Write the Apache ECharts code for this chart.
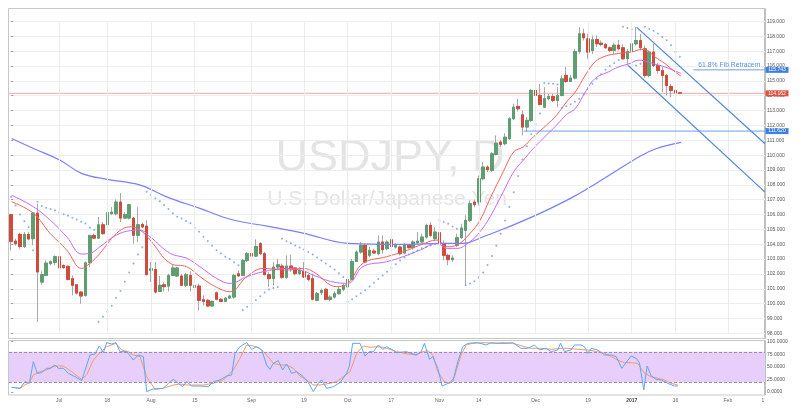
<!DOCTYPE html>
<html><head><meta charset="utf-8">
<script src="https://cdn.jsdelivr.net/npm/echarts@6.0.0/dist/echarts.min.js"></script>
<style>html,body{margin:0;padding:0;background:#fff}#c{width:801px;height:409px}</style>
</head><body><div id="c"></div>
<script>
// ---- data ----
const NSLOTS = 173; // trading-day slots on the time axis (Jun 16 2016 .. mid Feb 2017)
const tickIdx  = [11, 22, 32, 42, 55, 67, 77, 87, 98, 107, 120, 132, 142, 152, 164, 172];
const tickText = ['Jul','18','Aug','15','Sep','19','Oct','17','Nov','14','Dec','19','2017','16','Feb','1'];

const openP = [105.99,104.21,104.66,103.85,104.66,104.37,106.10,101.45,101.90,102.69,
102.78,103.16,102.57,102.51,101.68,101.27,100.78,100.55,102.75,104.59,
104.41,105.31,105.31,106.05,106.05,106.84,105.76,105.76,105.76,104.60,
105.33,105.22,102.24,102.30,100.82,101.27,101.18,101.90,101.86,101.86,
101.23,101.90,101.09,101.18,100.26,100.22,99.84,100.73,100.29,100.15,
100.37,100.44,102.01,101.90,102.91,103.36,103.20,104.04,103.36,101.95,
101.68,102.46,102.53,101.77,102.53,102.40,102.02,102.17,101.90,101.68,
100.22,100.74,100.96,100.29,100.44,100.67,100.96,101.12,101.63,102.84,
103.47,103.92,103.25,103.54,103.36,104.15,103.70,104.30,103.81,103.81,
103.41,103.92,103.77,104.08,104.15,104.48,105.27,104.37,104.78,104.03,
103.25,102.96,103.92,104.44,104.93,105.60,106.84,106.84,108.41,109.20,
108.97,110.05,110.88,110.77,111.10,112.45,113.28,112.72,111.89,112.34,
114.36,114.02,113.23,113.80,113.95,113.68,114.02,115.37,114.96,115.19,
116.98,118.17,117.83,117.05,117.79,117.54,117.45,117.23,117.05,117.41,
117.23,116.49,116.98,117.50,117.72,117.16,115.37,116.94,116.04,115.70,
115.37,114.63,114.36,114.20];
const closeP = [104.19,104.03,103.85,104.66,104.35,106.10,102.13,101.95,102.73,102.82,
103.16,102.40,102.42,101.63,101.23,100.71,100.51,102.75,104.59,104.41,
105.31,104.71,106.12,106.16,106.84,105.76,105.99,106.66,104.60,105.31,
105.16,101.95,102.35,100.78,101.23,101.14,101.90,102.40,102.40,101.23,
101.95,101.23,101.23,100.22,100.15,99.84,100.15,100.29,100.15,100.37,
100.51,101.90,101.86,102.91,103.36,103.20,103.85,103.36,101.95,101.68,
102.46,102.62,101.77,102.53,102.35,102.02,102.24,101.79,101.63,100.29,
100.67,100.89,100.29,100.44,100.67,100.96,101.23,101.63,102.84,103.47,
103.92,102.80,103.59,103.41,104.15,103.63,104.15,103.85,103.92,103.36,
103.92,103.77,104.15,104.21,104.48,105.27,104.60,104.82,104.04,103.25,
102.96,103.07,104.44,105.09,105.60,106.73,106.68,108.41,109.20,109.02,
110.09,110.81,110.72,111.21,112.45,113.23,113.12,111.89,112.34,114.36,
114.02,113.41,113.80,113.95,113.68,114.02,115.14,114.96,115.19,116.98,
118.17,117.90,116.94,117.77,117.50,117.45,117.23,117.05,117.41,117.16,
116.49,116.98,117.50,117.72,117.23,115.37,116.94,116.04,115.70,115.37,
114.69,114.36,114.20,114.162];
const highP = [106.05,104.37,104.77,104.82,104.82,106.16,106.73,102.17,102.91,102.91,
103.25,103.25,102.62,102.57,101.90,101.32,100.82,102.84,104.64,104.71,
105.83,105.49,106.28,106.50,107.02,107.45,106.16,106.73,105.83,106.50,
105.45,105.60,102.80,102.80,101.86,101.45,102.01,102.62,102.48,102.01,
102.08,102.17,101.41,101.34,100.55,100.33,100.22,100.82,100.37,100.44,
100.60,102.01,102.24,103.02,103.47,103.81,104.33,104.15,103.47,102.13,
102.80,103.02,102.69,103.25,103.29,102.46,102.46,102.80,102.02,102.02,
100.78,101.01,101.05,100.56,100.83,101.12,101.34,101.79,103.02,103.59,
104.15,104.03,103.81,103.70,104.60,104.60,104.26,104.44,104.08,103.92,
104.08,103.99,104.26,104.82,104.71,105.38,105.49,105.16,104.93,104.26,
103.36,103.25,104.71,105.38,105.94,106.95,107.00,108.63,109.53,109.31,
110.20,111.33,111.03,111.48,112.56,113.46,113.79,113.01,112.56,114.47,
114.51,114.80,114.58,114.13,114.13,114.58,115.37,115.93,115.41,117.16,
118.62,118.51,118.17,118.06,118.06,117.72,117.54,117.32,117.54,117.77,
117.45,117.16,117.72,118.62,118.17,117.38,117.05,117.50,116.19,115.93,
115.48,114.80,114.47,114.22];
const lowP = [103.58,103.92,103.70,103.74,104.26,103.92,98.76,101.27,101.86,102.57,
102.57,102.35,102.35,101.56,100.55,100.60,99.99,100.46,102.46,104.37,
104.37,104.64,105.15,105.99,105.94,105.49,105.72,105.67,104.03,104.15,
105.09,101.90,101.45,100.67,100.78,100.82,100.82,101.86,101.79,101.18,
101.12,100.82,100.78,99.55,99.88,99.77,99.77,100.22,100.11,100.11,
100.33,100.33,101.79,101.86,102.80,103.13,103.13,103.29,101.90,101.12,
101.23,102.24,101.68,101.68,102.13,101.90,101.90,101.72,101.50,100.22,
100.15,100.56,100.22,100.15,100.33,100.60,100.83,101.05,101.57,102.80,
103.36,102.73,103.14,103.36,103.25,103.36,103.59,103.77,103.70,103.25,
103.32,103.70,103.63,104.03,104.08,104.37,104.48,104.26,103.99,102.91,
102.58,102.80,103.81,104.37,101.23,105.49,106.50,106.61,108.30,108.86,
108.86,109.98,110.54,110.65,111.03,112.34,112.94,111.33,111.60,112.22,
113.91,113.35,113.17,113.68,113.57,113.23,113.97,114.87,114.92,115.10,
116.82,117.72,116.49,116.82,117.27,117.32,117.16,116.94,116.82,117.05,
116.42,116.04,116.71,117.38,117.05,115.21,115.25,115.93,115.48,114.24,
114.02,113.91,113.68,114.11];

// parabolic SAR, one value per candle
const sarValues = [107.2,106.6,106.0,105.55,105.15,103.6,
106.86,106.57,106.45,106.37,106.28,106.14,106.01,105.92,105.78,105.67,105.51,105.4,105.11,104.95,
98.76,99.12,99.45,99.86,100.4,100.85,101.47,102.1,102.7,103.3,103.8,
107.53,107.31,107.09,106.9,106.64,106.37,106.08,105.85,105.74,105.56,105.41,105.11,104.84,104.5,104.21,103.9,103.59,103.38,103.16,103.0,102.78,102.58,
99.57,99.78,100.0,100.25,100.5,100.75,100.95,101.05,101.12,
104.36,104.2,104.06,103.92,103.78,103.64,103.48,103.3,103.1,102.9,102.7,102.5,102.3,102.05,101.8,
100.13,100.3,100.5,100.7,100.9,101.15,101.4,101.65,101.9,102.15,102.4,102.65,102.9,103.1,103.3,103.45,103.6,103.72,103.82,103.92,104.0,
105.6,105.49,105.38,105.2,105.04,104.93,
101.23,101.35,101.5,101.75,102.1,102.6,103.2,103.9,104.7,105.6,106.5,107.5,108.6,109.7,110.6,111.4,112.1,112.8,
114.85,114.83,114.8,114.75,
113.17,113.3,113.42,113.6,113.8,114.1,114.45,114.8,115.15,115.45,115.75,116.0,116.2,116.4,
118.65,118.56,118.47,
116.04,116.15,
118.64,118.5,118.37,118.19,117.96,117.74,117.4,116.95,116.62];

// moving averages: [slot index, price]
const fastMA = [[0.1,106.86],[5.1,106.08],[8.9,104.73],[12.7,103.61],[16.1,102.37],[18.0,102.71],[20.3,103.38],[24.1,104.73],[27.2,105.17],[29.5,104.95],[31.8,104.28],[36.4,102.71],[40.2,102.48],[43.2,101.81],[47.0,101.10],[50.1,100.80],[53.9,101.81],[57.7,102.37],[63.1,102.26],[66.8,102.37],[69.1,102.15],[74.5,101.14],[77.1,101.37],[80.5,102.71],[85.9,103.16],[89.7,103.49],[93.6,103.94],[97.4,104.28],[99.7,103.83],[102.0,103.94],[105.0,104.73],[107.3,105.62],[109.6,107.09],[112.6,108.88],[115.0,110.22],[117.2,110.56],[119.5,111.23],[122.5,112.02],[124.8,112.69],[127.1,113.59],[129.1,114.26],[131.4,115.39],[133.6,116.28],[135.9,116.66],[139.0,116.85],[142.0,116.95],[144.3,117.12],[145.4,117.07],[147.3,116.62],[149.6,116.17],[151.9,115.61],[153.3,115.32]];
const slowMA = [[0.1,107.3],[5.1,106.52],[8.9,105.63],[12.7,104.50],[16.1,103.34],[18.0,103.38],[20.3,103.83],[24.1,104.62],[27.2,104.91],[29.5,104.95],[31.8,104.50],[36.4,103.38],[40.2,103.05],[43.2,102.48],[47.0,101.70],[50.1,101.36],[53.9,101.81],[57.7,102.15],[63.1,102.37],[66.8,102.21],[69.1,101.92],[74.5,101.41],[77.1,101.37],[80.5,102.49],[85.9,102.82],[89.7,103.16],[93.6,103.61],[97.4,104.06],[99.7,103.72],[102.0,103.72],[105.0,104.17],[107.3,104.84],[109.6,105.85],[112.6,107.53],[115.0,108.88],[117.2,109.66],[119.5,110.45],[122.5,111.35],[124.8,112.02],[127.1,112.74],[129.1,113.14],[131.4,114.26],[133.6,115.16],[136.7,115.61],[139.0,115.94],[141.6,116.17],[143.5,116.40],[145.0,116.35],[147.3,116.13],[149.6,115.94],[151.9,115.67],[153.3,115.50]];
const longMA = [[0.1,111.12],[5.1,110.45],[11.2,109.66],[16.1,108.77],[21.9,108.37],[29.5,107.98],[35.6,107.19],[43.2,106.41],[50.8,105.63],[58.5,105.22],[66.8,104.75],[77.1,104.06],[89.7,103.99],[98.8,104.06],[103.4,104.06],[108.0,104.50],[112.6,105.02],[121.0,106.08],[128.6,107.19],[136.3,108.54],[143.9,109.93],[147.7,110.45],[153.3,110.86]];

// trend channel and levels
const upperTrend = [[143.1,118.62],[172.5,110.77]];
const lowerTrend = [[141.2,116.04],[172.5,107.51]];
const lastPrice = 114.162, lastStart = -0.5;
const fibLevel = 115.743, fibStart = 156.1, fibText = '61.8% Fib Retracement';
const supportLevel = 111.620, supportStart = 117.3;

// stochastic
const stochK = [[0.11,9.3],[2.02,7.3],[3.16,20.6],[4.15,17.2],[5.07,60.3],[5.98,37.1],[6.97,38.5],[8.12,47.1],[8.88,47.1],[10.02,53.7],[10.79,47.1],[11.93,47.1],[13.08,37.1],[14.6,30.5],[16.13,22.6],[18.04,73.6],[19.18,75.6],[20.17,91.5],[21.09,78.2],[21.85,98.1],[23.0,95.4],[23.98,98.1],[24.9,80.2],[26.43,80.2],[27.95,63.6],[29.1,73.6],[30.24,70.3],[31.0,0.7],[32.15,5.3],[33.29,6.6],[34.82,7.3],[35.96,17.2],[37.1,25.2],[38.25,17.2],[39.24,10.6],[40.16,20.6],[41.3,11.9],[43.2,11.9],[45.1,10.6],[46.26,20.6],[47.78,23.9],[49.31,31.8],[50.45,33.8],[51.22,76.9],[52.36,90.1],[53.88,98.1],[55.03,84.8],[56.17,90.1],[57.32,83.5],[58.46,53.7],[59.22,45.1],[59.99,57.0],[61.13,62.3],[62.12,43.8],[63.04,55.7],[64.18,37.1],[65.33,40.4],[66.85,30.5],[68.0,18.6],[69.14,0.7],[70.28,17.2],[71.05,23.9],[72.19,7.3],[73.72,10.6],[75.24,18.6],[76.77,37.1],[77.38,51.7],[78.14,96.8],[79.82,96.8],[80.96,71.6],[81.96,80.2],[82.87,80.2],[84.02,93.5],[85.01,84.8],[85.92,90.1],[87.07,84.8],[88.21,78.2],[90.38,80.2],[91.52,76.9],[92.67,73.6],[93.81,80.2],[94.57,96.8],[95.72,65.0],[96.48,70.3],[97.62,47.1],[98.61,11.9],[99.91,17.2],[101.06,20.6],[102.2,60.3],[103.34,90.1],[104.49,96.8],[106.78,98.1],[108.68,93.5],[109.83,98.1],[111.35,96.8],[113.64,96.8],[114.79,98.1],[116.69,86.8],[118.22,86.8],[119.74,93.5],[120.89,83.5],[122.41,86.8],[123.56,80.2],[125.08,83.5],[125.69,96.8],[126.61,80.2],[128.13,83.5],[128.9,93.5],[130.42,93.5],[131.18,90.1],[131.95,76.9],[132.71,86.8],[134.24,83.5],[135.76,73.6],[137.29,73.6],[138.43,70.3],[139.73,47.1],[141.87,71.6],[143.01,67.0],[143.77,58.3],[144.76,4.0],[145.53,51.7],[146.44,31.8],[147.59,25.2],[148.73,23.9],[150.26,17.2],[151.78,11.9],[152.55,11.9]];
const stochD = [[0.11,9.3],[2.02,7.3],[4.3,20.6],[5.07,33.8],[6.59,40.4],[8.12,43.8],[10.02,51.7],[11.93,51.7],[13.84,40.4],[16.13,25.2],[17.27,33.8],[18.8,63.6],[20.32,78.2],[21.85,90.1],[23.98,96.8],[25.28,83.5],[26.81,80.2],[27.95,73.6],[29.48,70.3],[31.0,30.5],[32.91,5.3],[34.82,7.3],[37.1,13.9],[38.63,15.9],[40.16,13.9],[41.68,13.9],[43.97,13.9],[46.26,17.2],[48.55,23.9],[50.83,43.8],[52.36,67.0],[53.88,93.5],[55.41,91.5],[56.94,86.8],[58.46,73.6],[59.99,57.0],[61.51,53.7],[63.04,53.7],[64.56,47.1],[66.09,31.8],[67.62,23.9],[69.14,13.9],[70.67,13.9],[72.96,17.2],[74.48,20.6],[76.01,30.5],[77.53,40.4],[79.06,76.9],[80.58,91.5],[82.11,88.8],[83.63,90.1],[85.16,88.8],[86.68,84.8],[88.21,80.2],[90.76,75.6],[92.67,73.6],[94.19,80.2],[95.33,82.2],[96.48,73.6],[97.62,40.4],[99.15,20.6],[100.29,17.2],[101.44,30.5],[102.96,73.6],[104.11,93.5],[105.63,96.8],[108.3,98.1],[110.59,96.8],[112.88,98.1],[114.79,96.8],[117.46,90.1],[118.98,86.8],[121.27,86.8],[123.56,84.8],[125.85,86.8],[127.37,86.8],[129.66,84.8],[131.95,83.5],[134.24,80.2],[135.76,76.9],[137.29,70.3],[138.81,63.6],[140.34,58.3],[141.87,58.3],[143.39,57.0],[144.92,37.1],[146.44,30.5],[147.97,27.2],[149.49,23.9],[151.02,17.2],[152.55,13.9]];
const stochUpper = 80, stochLower = 20;

// ---- build ----
const FONT = "'Liberation Sans', Arial, sans-serif";
const slotNames = Array.from({length: NSLOTS}, (_, i) => String(i));
const labelOf = {};
tickIdx.forEach((i, k) => { labelOf[String(i)] = tickText[k]; });
const ohlc = openP.map((o, i) => [o, closeP[i], lowP[i], highP[i]]);
const bodies = openP.map((o, i) => [o, closeP[i], Math.min(o, closeP[i]), Math.max(o, closeP[i])]);
const sarPts = sarValues.map((v, i) => [i, v]);
const UP = '#5e9e70', DOWN = '#cf4b3b', BLUE = '#4f86dd', LEVELBLUE = '#6a9fe6', TAGBLUE = '#3f7fe0', TAGRED = '#e0523f';

function levelLine(name, start, level, color, z) {
  return {type: 'line', name, xAxisIndex: 1, yAxisIndex: 0, silent: true, z,
    data: [[start, level], [NSLOTS - 0.5, level]], showSymbol: false,
    lineStyle: {color, width: 1, type: 'solid'}};
}
// price tag sitting on the right axis, at the level's value
function priceTag(level, bg) {
  return {coord: [NSLOTS - 0.5, level], value: level, symbol: 'rect', symbolSize: [23, 6], symbolOffset: [12, 0],
    itemStyle: {color: bg},
    label: {show: true, position: 'inside', formatter: level.toFixed(3), color: '#fff', fontSize: 5, fontFamily: FONT}};
}

const chart = echarts.init(document.getElementById('c'), null, {renderer: 'canvas'});
chart.setOption({
  animation: false,
  backgroundColor: '#ffffff',
  textStyle: {fontFamily: FONT},
  graphic: [
    {type: 'text', z: 0, silent: true, style: {text: 'USDJPY, D', x: 390, y: 159, align: 'center', verticalAlign: 'middle', fontSize: 45, fontFamily: FONT, fill: '#e4e4e4'}},
    {type: 'text', z: 0, silent: true, style: {text: 'U.S. Dollar/Japanese Yen', x: 387, y: 199, align: 'center', verticalAlign: 'middle', fontSize: 21, fontFamily: FONT, fill: '#e4e4e4'}},
    {type: 'rect', z: 0, silent: true, shape: {x: 8.5, y: 8.5, width: 756.5, height: 330}, style: {fill: 'none', stroke: '#c8c8c8', lineWidth: 1}},
    {type: 'rect', z: 0, silent: true, shape: {x: 8.5, y: 340.5, width: 756.5, height: 54.5}, style: {fill: 'none', stroke: '#c8c8c8', lineWidth: 1}},
    {type: 'line', z: 0, silent: true, shape: {x1: 765, y1: 8.5, x2: 765, y2: 338.5}, style: {stroke: '#b4b4b4', lineWidth: 1.5}},
    {type: 'line', z: 0, silent: true, shape: {x1: 765, y1: 340.5, x2: 765, y2: 395}, style: {stroke: '#b4b4b4', lineWidth: 1.5}}
  ],
  grid: [
    {left: 9, right: 36, top: 21.5, height: 311.8},
    {left: 9, right: 36, top: 341.7, height: 50.3}
  ],
  xAxis: [
    {type: 'category', gridIndex: 0, data: slotNames, boundaryGap: true, show: false},
    {type: 'value', gridIndex: 0, min: -0.5, max: NSLOTS - 0.5, show: false},
    {type: 'category', gridIndex: 1, data: slotNames, boundaryGap: true,
      axisLine: {show: false}, axisTick: {show: false}, splitLine: {show: false},
      axisLabel: {interval: 0, margin: 6, fontSize: 5, color: '#666',
        formatter: v => { const t = labelOf[v] || ''; return t === '2017' ? '{b|2017}' : t; },
        rich: {b: {fontWeight: 'bold', fontSize: 5, color: '#444'}}}},
    {type: 'value', gridIndex: 1, min: -0.5, max: NSLOTS - 0.5, show: false}
  ],
  yAxis: [
    {type: 'value', gridIndex: 0, position: 'right', min: 98, max: 119, interval: 1,
      axisLine: {show: false}, axisTick: {show: true, length: 2, lineStyle: {color: '#999'}},
      axisLabel: {fontSize: 5, color: '#555', margin: 2, formatter: v => v.toFixed(3)},
      splitLine: {show: true, lineStyle: {color: '#eeeeee', width: 1}}},
    {type: 'value', gridIndex: 1, position: 'right', min: 0, max: 100, interval: 25,
      axisLine: {show: false}, axisTick: {show: true, length: 2, lineStyle: {color: '#999'}},
      axisLabel: {fontSize: 5, color: '#555', margin: 2, formatter: v => v.toFixed(4)},
      splitLine: {show: false}}
  ],
  series: [
    {type: 'line', xAxisIndex: 1, yAxisIndex: 0, data: [], z: 1, silent: true,
      markLine: {silent: true, symbol: ['none', 'none'], label: {show: false},
        lineStyle: {color: '#ececec', width: 1, type: 'solid'},
        data: tickIdx.filter(i => i < 170).map(i => ({xAxis: i}))}},
    levelLine('last', lastStart, lastPrice, '#f2a7a7', 1),
    {type: 'candlestick', name: 'wick', xAxisIndex: 0, yAxisIndex: 0, data: ohlc, barWidth: 3, z: 2,
      itemStyle: {color: '#a8a8a8', color0: '#a8a8a8', borderColor: '#a8a8a8', borderColor0: '#a8a8a8', borderColorDoji: '#a8a8a8', borderWidth: 1}},
    {type: 'candlestick', name: 'USDJPY', xAxisIndex: 0, yAxisIndex: 0, data: bodies, barWidth: 3, z: 3,
      itemStyle: {color: UP, color0: DOWN, borderColor: UP, borderColor0: DOWN, borderColorDoji: DOWN, borderWidth: 1}},
    {type: 'line', name: 'MA long', xAxisIndex: 1, yAxisIndex: 0, data: longMA, smooth: 0.4, showSymbol: false, z: 4,
      lineStyle: {color: '#7d7dff', width: 1.2}},
    {type: 'line', name: 'MA slow', xAxisIndex: 1, yAxisIndex: 0, data: slowMA, smooth: 0.4, showSymbol: false, z: 4,
      lineStyle: {color: '#c46cf5', width: 1}},
    {type: 'line', name: 'MA fast', xAxisIndex: 1, yAxisIndex: 0, data: fastMA, smooth: 0.4, showSymbol: false, z: 4,
      lineStyle: {color: '#f2625f', width: 1}},
    {type: 'scatter', name: 'SAR', xAxisIndex: 1, yAxisIndex: 0, data: sarPts, symbolSize: 2, z: 4,
      itemStyle: {color: '#6f9be0'}},
    {type: 'line', name: 'trend upper', xAxisIndex: 1, yAxisIndex: 0, data: upperTrend, showSymbol: false, z: 5,
      lineStyle: {color: BLUE, width: 1.2}},
    {type: 'line', name: 'trend lower', xAxisIndex: 1, yAxisIndex: 0, data: lowerTrend, showSymbol: false, z: 5,
      lineStyle: {color: BLUE, width: 1.2}},
    levelLine('support', supportStart, supportLevel, LEVELBLUE, 5),
    levelLine('fib', fibStart, fibLevel, LEVELBLUE, 5),
    {type: 'line', name: 'labels', xAxisIndex: 1, yAxisIndex: 0, data: [], z: 8, silent: true,
      markPoint: {silent: true, animation: false, data: [
        {coord: [fibStart, fibLevel], value: fibLevel, symbol: 'circle', symbolSize: 0.01,
          label: {show: true, position: 'right', distance: 5, offset: [0, -4.5], formatter: fibText,
            color: '#5a8fe0', fontSize: 6.8, fontFamily: FONT, width: 67, overflow: 'truncate', ellipsis: ''}},
        priceTag(fibLevel, TAGBLUE),
        priceTag(lastPrice, TAGRED),
        priceTag(supportLevel, TAGBLUE)
      ]}},
    {type: 'line', xAxisIndex: 3, yAxisIndex: 1, data: [], z: 1, silent: true,
      markArea: {silent: true, itemStyle: {color: '#e8cefb'}, data: [[{yAxis: stochLower}, {yAxis: stochUpper}]]},
      markLine: {silent: true, symbol: ['none', 'none'], label: {show: false},
        lineStyle: {color: '#9d8ca8', width: 1, type: [3, 2]},
        data: [{yAxis: stochUpper}, {yAxis: stochLower}]}},
    {type: 'line', name: '%D', xAxisIndex: 3, yAxisIndex: 1, data: stochD, showSymbol: false, z: 3,
      lineStyle: {color: '#f49a62', width: 1}},
    {type: 'line', name: '%K', xAxisIndex: 3, yAxisIndex: 1, data: stochK, showSymbol: false, z: 3,
      lineStyle: {color: '#5aa8f6', width: 1}}
  ]
});
</script>
</body></html>
